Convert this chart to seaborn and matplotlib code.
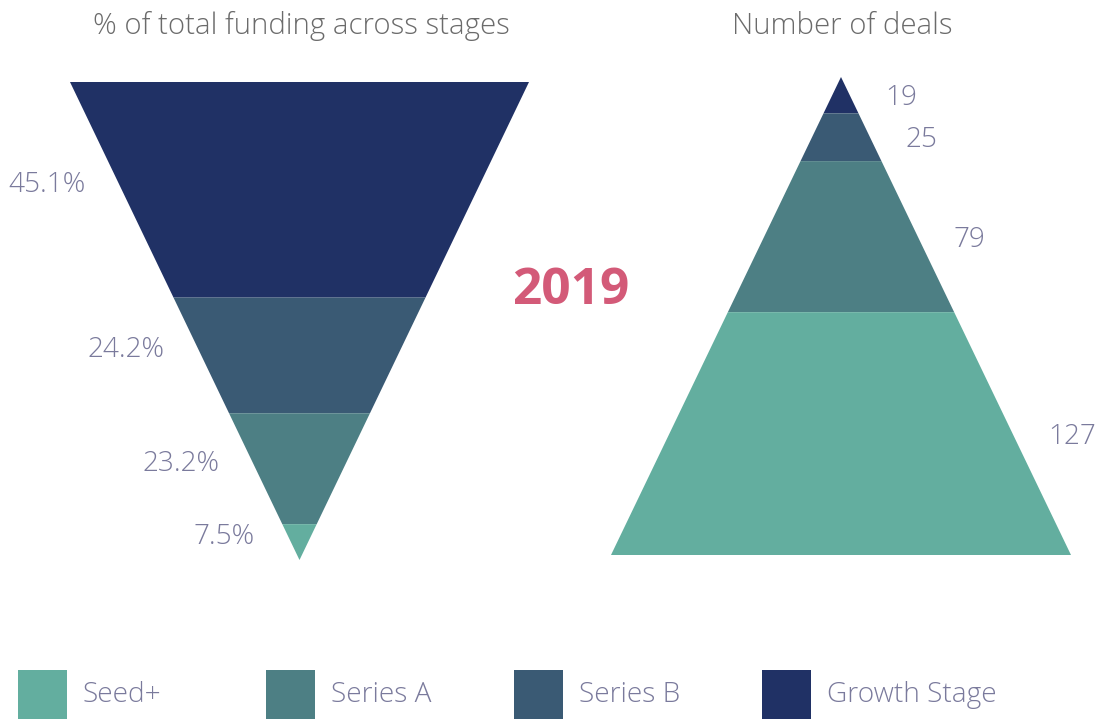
import numpy as np
import matplotlib
matplotlib.use("Agg")
import matplotlib.pyplot as plt
import seaborn as sns
from matplotlib.patches import Polygon, Rectangle

# ---- data ----
stages = ["Seed+", "Series A", "Series B", "Growth Stage"]
funding_pct = [7.5, 23.2, 24.2, 45.1]
deals = [127, 79, 25, 19]
colors = ["#63ae9f", "#4d7f84", "#3a5a74", "#203165"]
year_label = "2019"
title_left = "% of total funding across stages"
title_right = "Number of deals"

sns.set_theme(style="white")
plt.rcParams["font.family"] = ["Open Sans", "DejaVu Sans"]
TXT = "#7a7a9c"
FS = 20.2

W, H = 1104, 719
fig = plt.figure(figsize=(W / 100, H / 100), dpi=100)
ax = fig.add_axes([0, 0, 1, 1])
ax.set_xlim(0, W)
ax.set_ylim(H, 0)
ax.axis("off")

# ---- left inverted funnel (top = Growth, apex = Seed) ----
L_top, L_apex, L_cx, L_half = 82, 560, 299.5, 229.5
L_h = L_apex - L_top
order = list(range(len(stages)))[::-1]  # Growth first from top
cum = 0.0
tot = sum(funding_pct)
for i in order:
    y0 = L_top + L_h * cum / tot
    cum += funding_pct[i]
    y1 = L_top + L_h * cum / tot
    hw0 = L_half * (L_apex - y0) / L_h
    hw1 = L_half * (L_apex - y1) / L_h
    ax.add_patch(Polygon([(L_cx - hw0, y0), (L_cx + hw0, y0), (L_cx + hw1, y1), (L_cx - hw1, y1)],
                         closed=True, facecolor=colors[i], edgecolor="none"))
    ym = (y0 + y1) / 2 - 5
    edge = L_cx - L_half * (L_apex - ym) / L_h
    ax.text(edge - 34, ym, f"{funding_pct[i]}%", ha="right", va="center",
            fontsize=FS, color=TXT, fontweight="light")

# ---- right pyramid (apex = Growth, base = Seed) ----
R_apex, R_base, R_cx, R_half = 77, 555, 841, 230
R_h = R_base - R_apex
cum = 0.0
tot = sum(deals)
for i in order:
    y0 = R_apex + R_h * cum / tot
    cum += deals[i]
    y1 = R_apex + R_h * cum / tot
    hw0 = R_half * (y0 - R_apex) / R_h
    hw1 = R_half * (y1 - R_apex) / R_h
    ax.add_patch(Polygon([(R_cx - hw0, y0), (R_cx + hw0, y0), (R_cx + hw1, y1), (R_cx - hw1, y1)],
                         closed=True, facecolor=colors[i], edgecolor="none"))
    ym = (y0 + y1) / 2 + 3
    edge = R_cx + R_half * (ym - R_apex) / R_h
    ax.text(edge + 34, ym, f"{deals[i]}", ha="left", va="center",
            fontsize=FS, color=TXT, fontweight="light")

# ---- titles ----
ax.text(L_cx + 2, 26, title_left, ha="center", va="center", fontsize=21.2, color="#6b6b6b", fontweight="light")
ax.text(R_cx + 1, 26, title_right, ha="center", va="center", fontsize=21.2, color="#6b6b6b", fontweight="light")
ax.text(571, 291, year_label, ha="center", va="center", fontsize=37, color="#d35a78", fontweight="bold")

# ---- legend ----
for k, (name, c) in enumerate(zip(stages, colors)):
    x0 = 18 + 248 * k
    ax.add_patch(Rectangle((x0, 670), 49, 49, facecolor=c, edgecolor="none"))
    ax.text(x0 + 65, 695, name, ha="left", va="center", fontsize=FS, color=TXT, fontweight="light")

fig.savefig("out.png", dpi=100)
